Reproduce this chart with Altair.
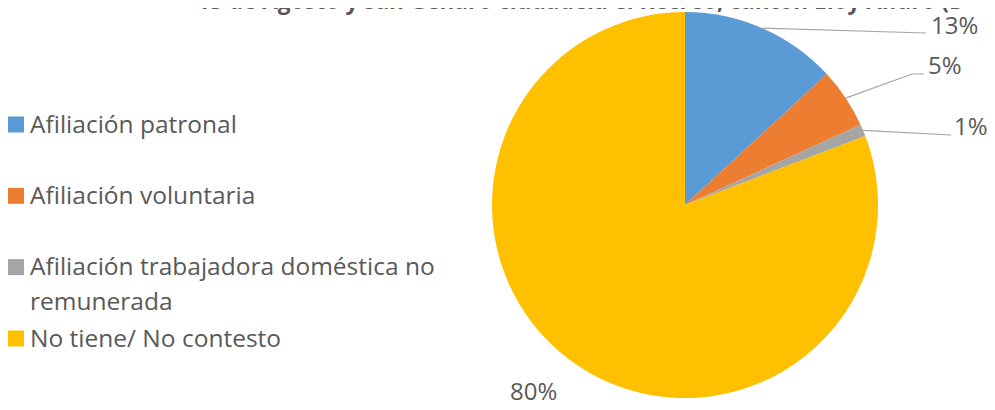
import math
import altair as alt
import pandas as pd

# ---- data ----
categories = [
    "Afiliación patronal",
    "Afiliación voluntaria",
    "Afiliación trabajadora doméstica no remunerada",
    "No tiene/ No contesto",
]
legend_labels = [
    "Afiliación patronal",
    "Afiliación voluntaria",
    "Afiliación trabajadora doméstica no\nremunerada",
    "No tiene/ No contesto",
]
values = [13, 5, 1, 80]
pct_labels = ["13%", "5%", "1%", "80%"]
title_text = "13 de Agosto y san Genaro ciudadela el Recreo, cantón Eloy Alfaro (D"

colors = ["#5B9BD5", "#ED7D31", "#A5A5A5", "#FFC000"]
text_color = "#595959"
font = "Open Sans"

# ---- layout (chart pixel coordinates) ----
W, H = 979, 394
CX, CY, R = 677, 197, 193
# label anchors (left-aligned text, baseline) and leader-line bends
label_pos = [(923, 26), (920, 66), (946, 127), (502, 392)]
leader_bends = [[(918, 25)], [(904, 66), (916, 66)], [(943, 127)], []]

# ---- tables ----
pie_df = pd.DataFrame({"cat": categories, "value": values, "idx": range(len(values))})

total = sum(values)
rows = []
cum = 0
for i, v in enumerate(values):
    mid = (cum + v / 2) / total * 2 * math.pi
    cum += v
    if not leader_bends[i]:
        continue
    pts = [(CX + R * math.sin(mid), CY - R * math.cos(mid))] + leader_bends[i]
    for k, (px, py) in enumerate(pts):
        rows.append({"lab": pct_labels[i], "k": k, "px": px, "py": py})
lines_df = pd.DataFrame(rows)

labels_df = pd.DataFrame({
    "lab": pct_labels,
    "px": [p[0] for p in label_pos],
    "py": [p[1] for p in label_pos],
})

legend_df = pd.DataFrame({"cat": categories, "text": legend_labels})

xs = alt.Scale(domain=[0, W], range=[0, W], nice=False, zero=False)
ys = alt.Scale(domain=[0, H], range=[0, H], nice=False, zero=False)

pie = alt.Chart(pie_df).mark_arc(radius=R).encode(
    theta=alt.Theta("value:Q", stack=True),
    color=alt.Color("cat:N", scale=alt.Scale(domain=categories, range=colors), legend=None),
    order=alt.Order("idx:Q"),
    x=alt.value(CX),
    y=alt.value(CY),
)

leaders = alt.Chart(lines_df).mark_line(color="#A6A6A6", strokeWidth=1.2).encode(
    x=alt.X("px:Q", scale=xs, axis=None),
    y=alt.Y("py:Q", scale=ys, axis=None),
    detail="lab:N",
    order="k:Q",
)

pct = alt.Chart(labels_df).mark_text(
    align="left", baseline="alphabetic", font=font, fontSize=24, color=text_color
).encode(
    x=alt.X("px:Q", scale=xs, axis=None),
    y=alt.Y("py:Q", scale=ys, axis=None),
    text="lab:N",
)

leg_sq = alt.Chart(legend_df).mark_square(size=256, opacity=1).encode(
    x=alt.value(8),
    y=alt.Y("cat:N", scale=alt.Scale(type="point", domain=categories, range=[116.5, 330.5], padding=0), axis=None),
    color=alt.Color("cat:N", scale=alt.Scale(domain=categories, range=colors), legend=None),
)

leg_tx = alt.Chart(legend_df).mark_text(
    align="left", baseline="alphabetic", font=font, fontSize=24.5, color=text_color,
    lineBreak="\n", lineHeight=35,
).encode(
    x=alt.value(22),
    y=alt.Y("cat:N", scale=alt.Scale(type="point", domain=categories, range=[124.7, 338.7], padding=0), axis=None),
    text="text:N",
)

title = alt.Chart(pd.DataFrame({"t": [title_text]})).mark_text(
    align="left", baseline="alphabetic", font=font, fontSize=22.6, fontWeight="bold", color=text_color
).encode(
    x=alt.value(189),
    y=alt.value(1),
    text="t:N",
)

chart = alt.layer(pie, leaders, pct, leg_sq, leg_tx, title).resolve_scale(
    x="independent", y="independent"
).properties(
    width=W, height=H, padding=0, autosize=alt.AutoSizeParams(type="none")
).configure_view(stroke=None)

chart.save("out.html", embed_options={"renderer": "svg", "actions": False})
